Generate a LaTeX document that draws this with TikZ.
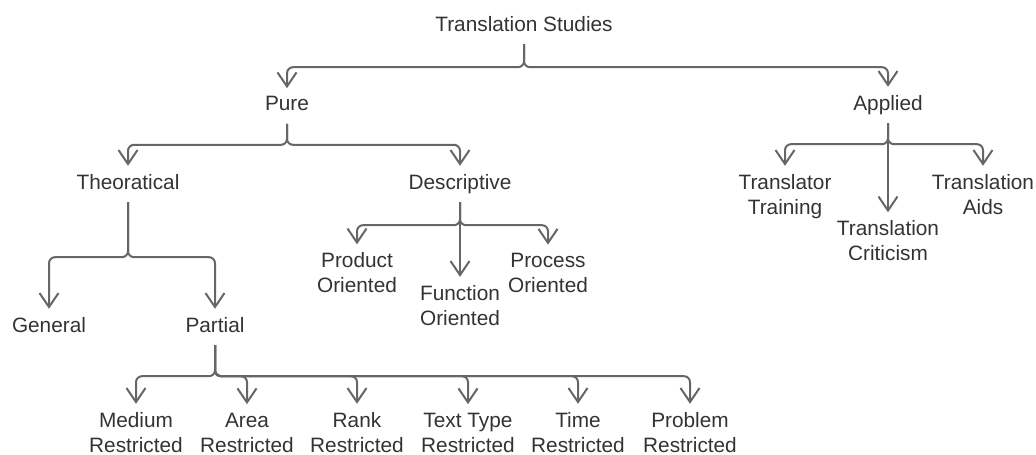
\documentclass[tikz,border=0pt]{standalone}
\usepackage{fontspec}
\setmainfont{Liberation Sans}
\usetikzlibrary{arrows.meta}
\definecolor{inkgray}{HTML}{333333}
\definecolor{wiregray}{HTML}{666666}

\begin{document}
\begin{tikzpicture}[x=1pt,y=-1pt,
  term/.style={align=center, text=inkgray, inner xsep=2pt, inner ysep=8.3pt,
    font=\fontsize{20.8}{25}\selectfont,
    execute at begin node=\vphantom{Ay}, execute at end node=\vphantom{Ay}},
  link/.style={draw=wiregray, line width=2pt, rounded corners=6pt,
    -{Straight Barb[length=14pt,width=19pt]}}]

\useasboundingbox (0,0) rectangle (1036,455);

\def \rowB{434.5}
\node[term] (studies) at (524,26) {Translation Studies};
\node[term] (pure) at (287,106) {Pure};
\node[term] (applied) at (888,105) {Applied};
\node[term] (theo) at (128,184) {Theoratical};
\node[term] (desc) at (460,184) {Descriptive};
\node[term] (general) at (49,327) {General};
\node[term] (partial) at (215,327) {Partial};
\node[term] (product) at (357,275) {Product\\Oriented};
\node[term] (func) at (460,307.5) {Function\\Oriented};
\node[term] (process) at (548,275) {Process\\Oriented};
\node[term] (trainer) at (785,196.5) {Translator\\Training};
\node[term] (criticism) at (888,243) {Translation\\Criticism};
\node[term] (aids) at (983,196.5) {Translation\\Aids};
\foreach \name/\x/\word in {medium/136/Medium, area/247/Area, rank/357/Rank,
    texttype/468/Text Type, time/578/Time, problem/690/Problem}
  \node[term] (\name) at (\x,\rowB) {\word\\Restricted};

\draw[link] (studies.south) -- ++(0,23) -| (pure);
\draw[link] (studies.south) -- ++(0,23) -| (applied);

\draw[link] (pure.south) -- ++(0,21) -| (theo);
\draw[link] (pure.south) -- ++(0,21) -| (desc);

\draw[link] (theo.south) -- ++(0,55) -| (general);
\draw[link] (theo.south) -- ++(0,55) -| (partial);

\draw[link] (desc.south) -- ++(0,23) -| (product);
\draw[link] (desc.south) -- (func);
\draw[link] (desc.south) -- ++(0,23) -| (process);

\draw[link] (applied.south) -- ++(0,21) -| (trainer);
\draw[link] (applied.south) -- (criticism);
\draw[link] (applied.south) -- ++(0,21) -| (aids);

\foreach \name in {medium,area,rank,texttype,time,problem}
  \draw[link] (partial.south) -- ++(0,31) -| (\name);

\end{tikzpicture}
\end{document}
